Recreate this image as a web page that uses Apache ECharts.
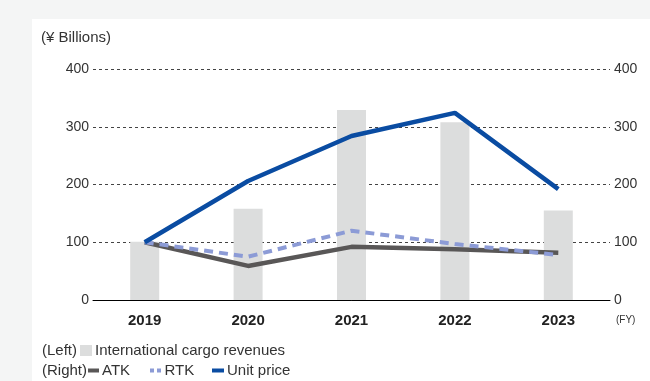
<!DOCTYPE html>
<html>
<head>
<meta charset="utf-8">
<script src="https://cdn.jsdelivr.net/npm/echarts@6/dist/echarts.min.js"></script>
<style>
  html, body { margin: 0; padding: 0; background: #f4f5f5; }
  #chart { width: 650px; height: 381px; }
</style>
</head>
<body>
<div id="chart"></div>
<script>
// Fiscal years on the category axis
const years = ['2019', '2020', '2021', '2022', '2023'];
// Left axis: international cargo revenues (¥ billions)
const cargoRevenues = [101, 158, 329, 308, 155];
// Right axis: indices (FY2019 = 100)
const atk = [100, 59, 92, 88, 82];
const rtk = [100, 75, 120, 97, 78];
const unitPrice = [100, 206, 284, 324, 192];
const axisTicks = [0, 100, 200, 300, 400];

const FONT = '"Liberation Sans", Arial, Helvetica, sans-serif';
const TEXT = '#333333';
const LEGEND_TEXT = { fontSize: 15, color: TEXT, fontFamily: FONT, padding: [0, 0, 0, -2] };

const chart = echarts.init(document.getElementById('chart'), null, { renderer: 'canvas' });

function legendItem(name, icon, left, top, w, h) {
  return {
    data: [{ name: name, icon: icon }],
    left: left, top: top, padding: 0,
    itemWidth: w, itemHeight: h,
    textStyle: LEGEND_TEXT,
    selectedMode: false
  };
}

chart.setOption({
  backgroundColor: 'transparent',
  animation: false,
  textStyle: { fontFamily: FONT, color: TEXT },
  graphic: [
    // white panel behind the chart
    { type: 'rect', left: 32, top: 19, z: -10,
      shape: { width: 618, height: 362 }, style: { fill: '#ffffff' } },
    { type: 'text', left: 41, top: 30,
      style: { text: '(¥ Billions)', font: '15px ' + FONT, fill: TEXT } },
    { type: 'text', left: 616, top: 315,
      style: { text: '(FY)', font: '10px ' + FONT, fill: TEXT } },
    { type: 'text', left: 42, top: 343,
      style: { text: '(Left)', font: '15px ' + FONT, fill: TEXT } },
    { type: 'text', left: 42, top: 363,
      style: { text: '(Right)', font: '15px ' + FONT, fill: TEXT } }
  ],
  legend: [
    legendItem('International cargo revenues', 'rect', 80, 343, 12, 11),
    legendItem('ATK', 'rect', 88, 363, 11, 4),
    legendItem('RTK', 'path://M0,0h4v4h-4z M7,0h4v4h-4z', 150, 363, 12, 4),
    legendItem('Unit price', 'rect', 212, 363, 12, 4)
  ],
  grid: { left: 93, right: 40, top: 69, bottom: 81, containLabel: false },
  xAxis: {
    type: 'category',
    data: years,
    boundaryGap: true,
    axisLine: { lineStyle: { color: '#000000', width: 1 } },
    axisTick: { show: false },
    axisLabel: { fontSize: 15, fontWeight: 'bold', color: '#222', margin: 13, fontFamily: FONT }
  },
  yAxis: [
    {
      type: 'value', min: 0, max: 400, interval: 100,
      axisLine: { show: false },
      axisTick: { show: false },
      axisLabel: {
        fontSize: 14, color: TEXT, margin: 4, fontFamily: FONT,
        formatter: v => axisTicks.includes(v) ? String(v) : ''
      },
      splitLine: {
        show: true,
        lineStyle: { color: '#444444', type: [3, 3], width: 1 }
      }
    },
    {
      type: 'value', min: 0, max: 400, interval: 100, position: 'right',
      axisLine: { show: false },
      axisTick: { show: false },
      axisLabel: {
        fontSize: 14, color: TEXT, margin: 4, fontFamily: FONT,
        formatter: v => axisTicks.includes(v) ? String(v) : ''
      },
      splitLine: { show: false }
    }
  ],
  series: [
    {
      name: 'International cargo revenues',
      type: 'bar',
      yAxisIndex: 0,
      data: cargoRevenues,
      barWidth: 29,
      itemStyle: { color: '#dcdddd' },
      z: 1
    },
    {
      name: 'ATK',
      type: 'line',
      yAxisIndex: 1,
      data: atk,
      symbol: 'none',
      lineStyle: { color: '#595757', width: 4.5 },
      itemStyle: { color: '#595757' },
      z: 3
    },
    {
      name: 'RTK',
      type: 'line',
      yAxisIndex: 1,
      data: rtk,
      symbol: 'none',
      lineStyle: { color: '#8c9bd6', width: 4, type: [9, 6] },
      itemStyle: { color: '#8c9bd6' },
      z: 4
    },
    {
      name: 'Unit price',
      type: 'line',
      yAxisIndex: 1,
      data: unitPrice,
      symbol: 'none',
      lineStyle: { color: '#0a4ca2', width: 4.5 },
      itemStyle: { color: '#0a4ca2' },
      z: 5
    }
  ]
});
</script>
</body>
</html>
